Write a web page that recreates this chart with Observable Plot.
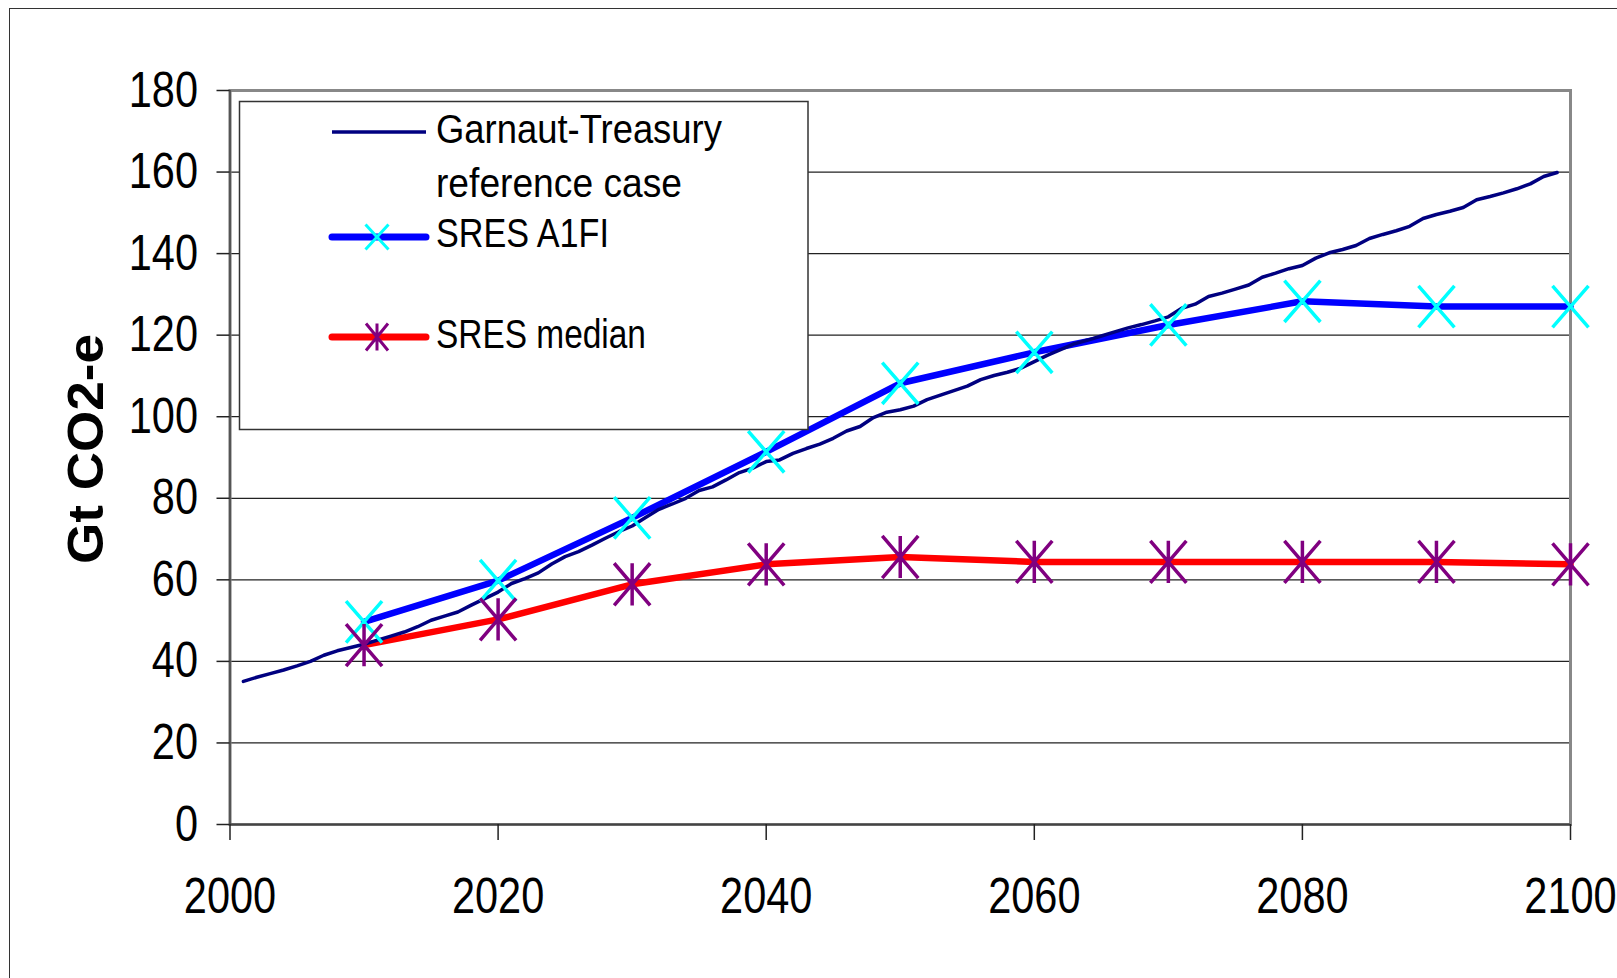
<!DOCTYPE html>
<html><head><meta charset="utf-8">
<script src="https://cdn.jsdelivr.net/npm/d3@7"></script>
<script src="https://cdn.jsdelivr.net/npm/@observablehq/plot@0.6"></script>
<style>
html,body{margin:0;padding:0;background:#fff;overflow:hidden;}
#wrap{position:relative;width:1617px;height:978px;overflow:hidden;background:#fff;}
#chart{position:absolute;left:0;top:0;}
#overlay{position:absolute;left:0;top:0;pointer-events:none;}
#border{position:absolute;left:9px;top:8px;width:1700px;height:1100px;border:1.5px solid #333;pointer-events:none;}
</style></head>
<body><div id="wrap"><div id="chart"></div><svg id="overlay" width="1617" height="978"></svg><div id="border"></div></div>
<script>
// ---- data ----
const garnautStartYear = 2001;
const garnautValues = [
  35.1, 36.1, 37.0, 37.9, 38.9, 40.0, 41.5, 42.6, 43.4, 44.2,
  45.2, 46.2, 47.2, 48.5, 50.1, 51.1, 52.1, 53.8, 55.4, 57.0,
  59.1, 60.3, 61.7, 63.9, 65.7, 66.9, 68.5, 70.2, 71.8, 73.2,
  75.3, 77.3, 78.6, 80.0, 81.9, 82.8, 84.5, 86.3, 87.4, 89.0,
  89.4, 91.0, 92.2, 93.3, 94.7, 96.5, 97.6, 99.8, 101.1, 101.7,
  102.6, 104.2, 105.3, 106.4, 107.5, 109.1, 110.1, 110.9, 111.9, 113.5,
  115.1, 116.5, 117.9, 118.8, 119.8, 120.8, 121.8, 122.6, 123.5, 124.5,
  126.6, 127.6, 129.5, 130.3, 131.3, 132.3, 134.2, 135.2, 136.3, 137.1,
  138.9, 140.2, 141.0, 142.0, 143.7, 144.7, 145.6, 146.7, 148.6, 149.6,
  150.4, 151.3, 153.2, 154.0, 154.9, 155.9, 157.1, 158.9, 159.9
];
const sresYears = [2010, 2020, 2030, 2040, 2050, 2060, 2070, 2080, 2090, 2100];
const a1fiValues = [49.7, 59.8, 75.2, 91.4, 108.2, 115.8, 122.5, 128.3, 127.0, 127.0];
const medianValues = [44.0, 50.3, 58.9, 63.8, 65.6, 64.4, 64.4, 64.4, 64.4, 63.8];
const xTicks = [2000, 2020, 2040, 2060, 2080, 2100];
const yTicks = [0, 20, 40, 60, 80, 100, 120, 140, 160, 180];
const seriesNames = ["Garnaut-Treasury reference case", "SRES A1FI", "SRES median"];
const yLabel = "Gt CO2-e";

// ---- tables ----
const garnaut = garnautValues.map((v, i) => ({year: garnautStartYear + i, value: v}));
const a1fi = sresYears.map((y, i) => ({year: y, value: a1fiValues[i]}));
const median = sresYears.map((y, i) => ({year: y, value: medianValues[i]}));

// custom stroke symbols (slightly taller than wide, like the original)
function xSymbol(ratio) {
  return {draw(ctx, size) {
    const r = Math.sqrt(size / Math.PI), h = r * ratio;
    ctx.moveTo(-r, -h); ctx.lineTo(r, h);
    ctx.moveTo(r, -h); ctx.lineTo(-r, h);
  }};
}
function asteriskSymbol(ratio) {
  return {draw(ctx, size) {
    const r = Math.sqrt(size / Math.PI), h = r * ratio;
    ctx.moveTo(-r, -h); ctx.lineTo(r, h);
    ctx.moveTo(r, -h); ctx.lineTo(-r, h);
    ctx.moveTo(0, -h); ctx.lineTo(0, h);
  }};
}

const sans = "'Liberation Sans',Arial,sans-serif";
const colors = {garnaut: "#000080", a1fi: "#0000ff", a1fiMark: "#00ffff", median: "#ff0000", medianMark: "#800080"};

const plot = Plot.plot({
  width: 1617, height: 978,
  marginLeft: 229.5, marginRight: 47, marginTop: 90, marginBottom: 154,
  style: {background: "transparent", fontFamily: sans, fontSize: "50px", color: "#000", overflow: "visible"},
  x: {domain: [2000, 2100], label: null},
  y: {domain: [0, 180], label: null},
  marks: [
    Plot.gridY(yTicks, {stroke: "#222", strokeOpacity: 1, strokeWidth: 1.2}),
    Plot.frame({stroke: "#888", strokeWidth: 3}),
    Plot.ruleX([2000], {stroke: "#555", strokeWidth: 2.2}),
    Plot.ruleY([0], {stroke: "#444", strokeWidth: 2.2}),
    Plot.axisX(xTicks, {tickSize: 16, tickPadding: 37, tickFormat: d => String(d), fontSize: 50, stroke: "#222", strokeWidth: 1.5, fill: "#000", label: null}),
    Plot.axisY(yTicks, {tickSize: 13, tickPadding: 19, tickFormat: d => String(d), fontSize: 50, stroke: "#222", strokeWidth: 1.5, fill: "#000", label: null}),
    Plot.text([yLabel], {frameAnchor: "left", textAnchor: "middle", rotate: -90, dx: -163, dy: -8.5, lineAnchor: "top",
      fontWeight: "bold", fontSize: 50, fontFamily: sans, fill: "#000"}),
    Plot.line(a1fi, {x: "year", y: "value", stroke: colors.a1fi, strokeWidth: 6.5}),
    Plot.line(median, {x: "year", y: "value", stroke: colors.median, strokeWidth: 6.5}),
    Plot.line(garnaut, {x: "year", y: "value", stroke: colors.garnaut, strokeWidth: 3.5}),
    Plot.dot(a1fi, {x: "year", y: "value", symbol: xSymbol(1.15), r: 18, fill: "none", stroke: colors.a1fiMark, strokeWidth: 3.5}),
    Plot.dot(median, {x: "year", y: "value", symbol: asteriskSymbol(1.17), r: 18, fill: "none", stroke: colors.medianMark, strokeWidth: 3.5})
  ]
});
document.getElementById("chart").appendChild(plot);

// scale a text element along its own x axis about its anchor point
function squeeze(t, s) {
  const ax = +(t.getAttribute("x") || 0);
  const tr = t.getAttribute("transform") || "";
  t.setAttribute("transform", `${tr} translate(${ax},0) scale(${s},1) translate(${-ax},0)`);
}
function fitWidth(t, target) {
  const w = t.getBBox().width;
  if (w > 0) squeeze(t, target / w);
}

// the original's text is tall and narrow: condense tick labels
const tickTexts = new Set(xTicks.map(String).concat(yTicks.map(String)));
d3.select(plot).selectAll("text").each(function() {
  const s = this.textContent;
  if (s === yLabel) fitWidth(this, 230);
  else if (tickTexts.has(s) && !this.querySelector("tspan")) squeeze(this, 0.83);
});

// ---- legend (inside the plot area, top-left) ----
const L = d3.select("#overlay");
L.append("rect").attr("x", 239.5).attr("y", 101.5).attr("width", 568.5).attr("height", 328)
  .attr("fill", "#fff").attr("stroke", "#333").attr("stroke-width", 1.5);
const lx0 = 332, lx1 = 426, cx = 377, tx = 436;
// series 1
L.append("line").attr("x1", lx0).attr("x2", lx1).attr("y1", 132).attr("y2", 132)
  .attr("stroke", colors.garnaut).attr("stroke-width", 3.5);
const words = seriesNames[0].split(" ");
const line1 = words[0], line2 = words.slice(1).join(" ");
const t1 = L.append("text").attr("x", tx).attr("y", 143).text(line1);
const t2 = L.append("text").attr("x", tx).attr("y", 197).text(line2);
// series 2
L.append("line").attr("x1", lx0).attr("x2", lx1).attr("y1", 237).attr("y2", 237)
  .attr("stroke", colors.a1fi).attr("stroke-width", 7).attr("stroke-linecap", "round");
L.append("path").attr("d", `M${cx-11.5},${237-12.5}L${cx+11.5},${237+12.5}M${cx+11.5},${237-12.5}L${cx-11.5},${237+12.5}`)
  .attr("stroke", colors.a1fiMark).attr("stroke-width", 3).attr("fill", "none");
const t3 = L.append("text").attr("x", tx).attr("y", 247).text(seriesNames[1]);
// series 3
L.append("line").attr("x1", lx0).attr("x2", lx1).attr("y1", 337).attr("y2", 337)
  .attr("stroke", colors.median).attr("stroke-width", 7).attr("stroke-linecap", "round");
L.append("path").attr("d", `M${cx-11},${337-13.5}L${cx+11},${337+13.5}M${cx+11},${337-13.5}L${cx-11},${337+13.5}M${cx},${337-13.5}L${cx},${337+13.5}`)
  .attr("stroke", colors.medianMark).attr("stroke-width", 3).attr("fill", "none");
const t4 = L.append("text").attr("x", tx).attr("y", 348).text(seriesNames[2]);
L.selectAll("text").attr("font-family", sans).attr("font-size", 40).attr("fill", "#000");
fitWidth(t1.node(), 286);
fitWidth(t2.node(), 246);
fitWidth(t3.node(), 173);
fitWidth(t4.node(), 210);
</script>
</body></html>
